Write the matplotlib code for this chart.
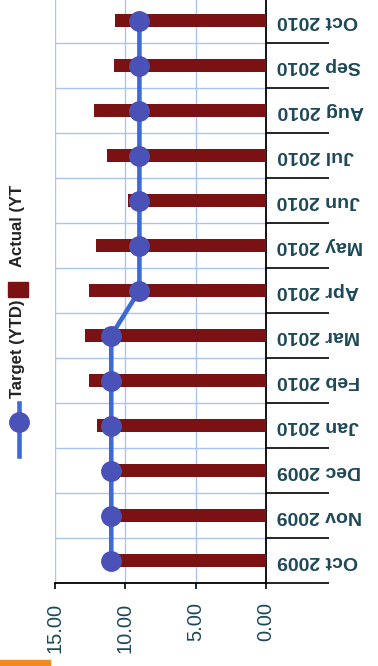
import matplotlib
matplotlib.use("Agg")
import matplotlib.pyplot as plt
from matplotlib.lines import Line2D
from matplotlib.patches import Rectangle
from matplotlib.ticker import FixedLocator, FormatStrFormatter

# Monthly YTD figures, Oct 2009 .. Oct 2010
months = ["Oct 2009", "Nov 2009", "Dec 2009", "Jan 2010", "Feb 2010", "Mar 2010",
          "Apr 2010", "May 2010", "Jun 2010", "Jul 2010", "Aug 2010", "Sep 2010",
          "Oct 2010"]
actual_ytd = [10.9, 10.9, 10.9, 12.0, 12.6, 12.9, 12.6, 12.1, 9.8, 11.3, 12.2, 10.8, 10.7]
target_ytd = [11.0, 11.0, 11.0, 11.0, 11.0, 11.0, 9.0, 9.0, 9.0, 9.0, 9.0, 9.0, 9.0]
value_ticks = [15.0, 10.0, 5.0, 0.0]
legend_labels = ["Target (YTD)", "Actual (YT"]

W, H = 378, 666
DPI = 100
BAR_COLOR = "#7a1214"
LINE_COLOR = "#3e6ad4"
MARKER_COLOR = "#4a52b8"
GRID_COLOR = "#a9c4f0"
LABEL_COLOR = "#1d4858"
FONT = "Liberation Sans"

fig = plt.figure(figsize=(W / DPI, H / DPI), dpi=DPI)
fig.patch.set_facecolor("white")

def fx(px):
    return px / W

def fy(py):
    return 1 - py / H

# plot area: value axis runs right-to-left, months bottom-to-top
left, right, top, bottom = 55, 266, -2, 583
ax = fig.add_axes([fx(left), fy(bottom), fx(right - left), (bottom - top) / H])

pos = list(range(len(months)))
ax.barh(pos, actual_ytd, height=0.30, color=BAR_COLOR, zorder=3)
ax.plot(target_ytd, pos, color=LINE_COLOR, lw=3.3, zorder=4,
        marker="o", markersize=14, markerfacecolor=MARKER_COLOR,
        markeredgecolor=MARKER_COLOR)

ax.set_xlim(15, 0)
ax.set_ylim(-0.5, len(months) - 0.5)

# value axis
ax.xaxis.set_major_locator(FixedLocator(value_ticks))
ax.xaxis.set_major_formatter(FormatStrFormatter("%.2f"))
ax.tick_params(axis="x", which="major", direction="out", length=4, width=1.2,
               color="black", pad=10, labelsize=14.5, labelcolor=LABEL_COLOR,
               labelrotation=90)
for lab in ax.get_xticklabels():
    lab.set_fontfamily(FONT)
    lab.set_va("top")

# month axis on the right, separators between months
ax.yaxis.tick_right()
ax.set_yticks(pos)
ax.set_yticklabels(months)
ax.yaxis.set_minor_locator(FixedLocator([p - 0.5 for p in range(len(months) + 1)]))
ax.tick_params(axis="y", which="major", length=0, pad=8, labelsize=14,
               labelcolor=LABEL_COLOR)
ax.tick_params(axis="y", which="minor", direction="out", length=45, width=1.2,
               color="black")
for lab in ax.get_yticklabels():
    lab.set_rotation(180)
    lab.set_fontfamily(FONT)
    lab.set_fontweight("bold")
    lab.set_ha("left")
    lab.set_va("center")

ax.grid(axis="x", which="major", color=GRID_COLOR, lw=1.0, zorder=0)
ax.grid(axis="y", which="minor", color=GRID_COLOR, lw=1.0, zorder=0)
ax.set_axisbelow(True)

ax.spines["left"].set_visible(False)
ax.spines["top"].set_visible(False)
ax.spines["right"].set_color("black")
ax.spines["right"].set_linewidth(1.3)
ax.spines["bottom"].set_color("black")
ax.spines["bottom"].set_linewidth(1.3)

# legend drawn vertically along the left edge
fig.add_artist(Line2D([fx(19), fx(19)], [fy(403), fy(456)], color=LINE_COLOR, lw=3.3))
fig.add_artist(Line2D([fx(19)], [fy(422)], marker="o", markersize=14,
                      markerfacecolor=MARKER_COLOR, markeredgecolor=MARKER_COLOR))
fig.text(fx(18), fy(398), legend_labels[0], rotation=90, ha="center", va="bottom",
         fontsize=12, fontweight="bold", color="#222222", family=FONT)
fig.add_artist(Rectangle((fx(8), fy(297)), fx(20), 15 / H, color=BAR_COLOR))
fig.text(fx(18), fy(267), legend_labels[1], rotation=90, ha="center", va="bottom",
         fontsize=12, fontweight="bold", color="#222222", family=FONT)

# orange accent in the lower-left corner
fig.add_artist(Rectangle((0, 0), fx(50), 6 / H, color="#f28a22"))

fig.savefig("out.png", dpi=DPI)
